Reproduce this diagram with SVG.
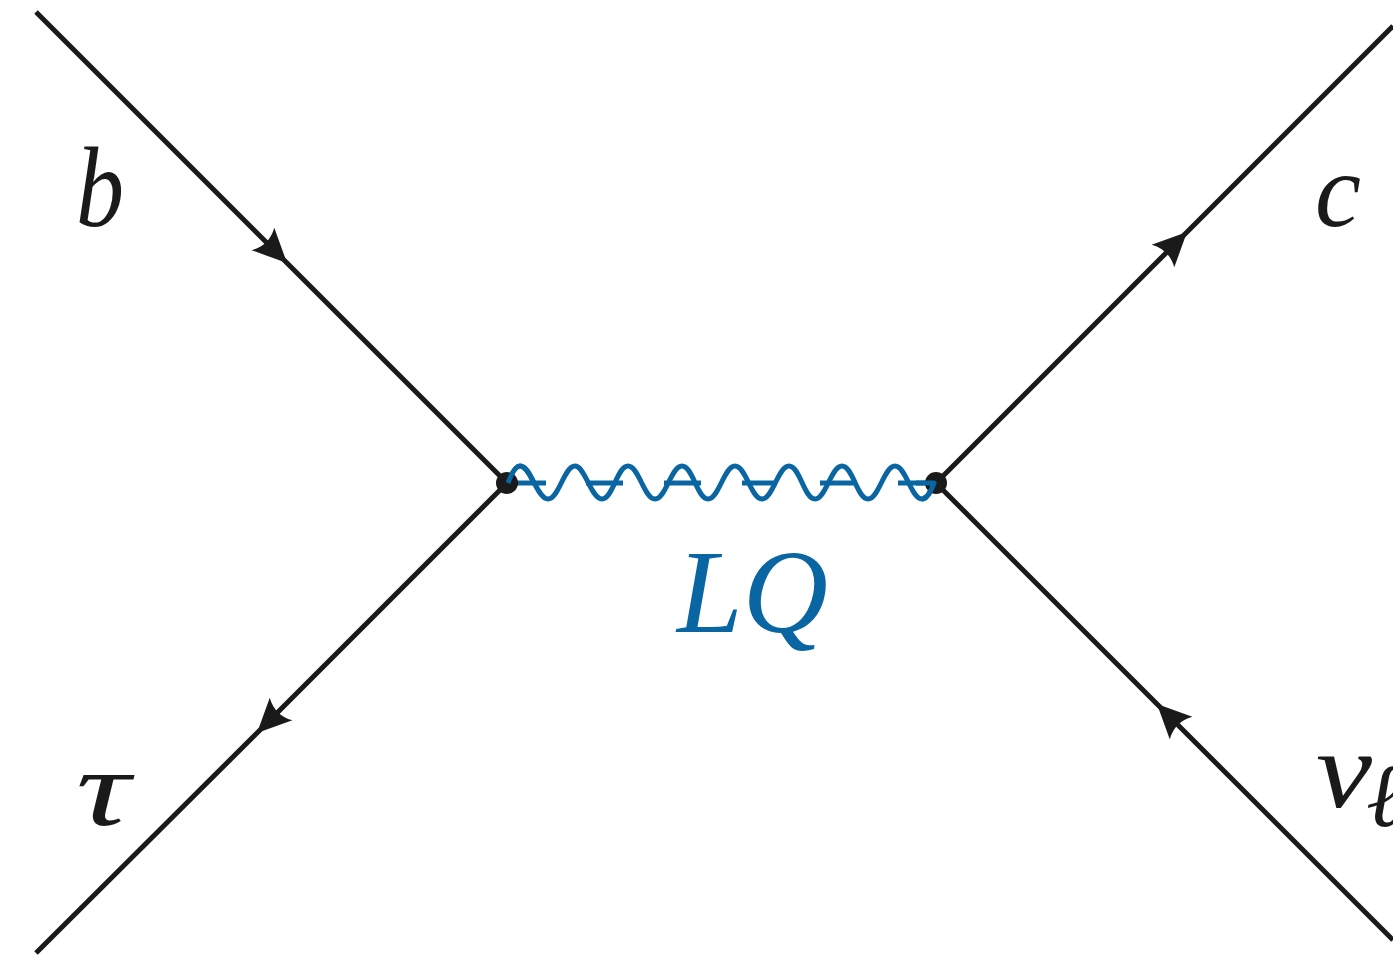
<svg xmlns="http://www.w3.org/2000/svg" width="1393" height="956" viewBox="0 0 1393 956">
<style>
.f{fill:none;stroke:#1a1a1a;stroke-width:5;marker-mid:url(#arrow)}
.w{fill:none;stroke:#0a66a3;stroke-width:5;stroke-linejoin:round}
.t{font-family:"Liberation Serif",serif;font-style:italic;fill:#1a1a1a}
.v{fill:#1a1a1a}
</style>
<defs>
<marker id="arrow" markerUnits="userSpaceOnUse" markerWidth="44" markerHeight="44" refX="36" refY="20" orient="auto" overflow="visible">
<path d="M36,20 L2,4 Q11,20 2,36 Z" fill="#1a1a1a"/>
</marker>
</defs>
<rect width="1393" height="956" fill="#fff"/>
<g id="connectors">
<path class="f" d="M36,12 L287,263 L507,483"/>
<path class="f" d="M507,483 L257,733 L36,953"/>
<path class="f" d="M936,483 L1187,232 L1393,26"/>
<path class="f" d="M1393,940 L1157,704 L936,483"/>
<path class="w" d="M508,483 C511,475 515,466 520,466 C531,466 537,499 548,499 C559,499 564,466 575,466 C585,466 591,499 602,499 C613,499 617,466 628,466 C639,466 644,499 655,499 C666,499 671,466 682,466 C693,466 697,499 708,499 C719,499 724,466 735,466 C746,466 751,499 762,499 C773,499 778,466 789,466 C800,466 804,499 815,499 C826,499 831,466 842,466 C853,466 857,499 868,499 C879,499 884,466 895,466 C906,466 911,499 922,499 C927,499 931,491 934,483"/>
<path class="w" d="M508,483 H546 M586,483 H623 M664,483 H701 M742,483 H777 M820,483 H857 M898,483 H935"/>
</g>
<g id="vertex-left"><circle class="v" cx="507" cy="483" r="11"/></g>
<g id="vertex-right"><circle class="v" cx="936" cy="483" r="11"/></g>
<g id="wave-overlay"><path class="w" d="M508,483 C511,475 515,466 520,466 C526,466 530,475 534,483 M922,499 C927,499 931,491 934,483 H916"/></g>
<g id="label-b"><text class="t" x="76" y="226" font-size="114" textLength="48" lengthAdjust="spacingAndGlyphs">b</text></g>
<g id="label-c"><text class="t" x="1315" y="226" font-size="106" textLength="46" lengthAdjust="spacingAndGlyphs">c</text></g>
<g id="label-tau"><text class="t" x="76" y="825" font-size="108" textLength="54" lengthAdjust="spacingAndGlyphs">τ</text></g>
<g id="label-nu"><text class="t" x="1316" y="807" font-size="110" textLength="56" lengthAdjust="spacingAndGlyphs">ν</text><text class="t" x="1366" y="826" font-size="90">ℓ</text></g>
<g id="label-lq"><text class="t" x="677" y="632" font-size="118" style="fill:#0a66a3">LQ</text></g>
</svg>
